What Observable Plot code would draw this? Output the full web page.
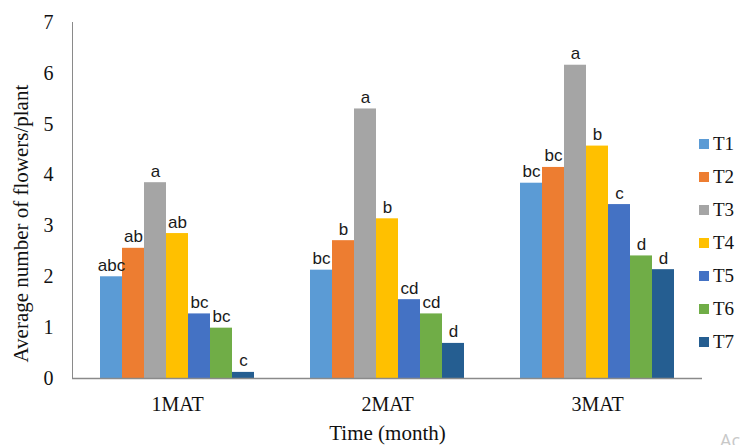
<!DOCTYPE html>
<html>
<head>
<meta charset="utf-8">
<script src="https://cdn.jsdelivr.net/npm/d3@7"></script>
<script src="https://cdn.jsdelivr.net/npm/@observablehq/plot@0.6"></script>
<style>
  html, body { margin: 0; padding: 0; background: #fff; }
  #wrap { position: relative; width: 742px; height: 445px; overflow: hidden; background: #fff; }
  #legend { position: absolute; left: 699px; top: 127px; font-family: "Liberation Serif", "Times New Roman", serif; font-size: 19px; color: #111; }
  #legend .item { display: flex; align-items: center; height: 33.1px; }
  #legend .sw { width: 10px; height: 10px; margin-right: 4px; }
  #legend .lb { font-family: "Liberation Serif", "Times New Roman", serif; }
  #wm { position: absolute; left: 720px; top: 428px; font-family: "Open Sans", "Noto Sans", sans-serif; font-size: 18px; color: #c8c8c8; }
</style>
</head>
<body>
<div id="wrap"></div>
<script>
const months = ["1MAT", "2MAT", "3MAT"];
const treatments = ["T1", "T2", "T3", "T4", "T5", "T6", "T7"];
const colors = ["#5B9BD5", "#ED7D31", "#A5A5A5", "#FFC000", "#4472C4", "#70AD47", "#255E91"];
const values1MAT = [2.00, 2.56, 3.85, 2.85, 1.27, 0.99, 0.12];
const values2MAT = [2.13, 2.71, 5.30, 3.14, 1.55, 1.27, 0.69];
const values3MAT = [3.84, 4.15, 6.16, 4.57, 3.42, 2.41, 2.14];
const letters1MAT = ["abc", "ab", "a", "ab", "bc", "bc", "c"];
const letters2MAT = ["bc", "b", "a", "b", "cd", "cd", "d"];
const letters3MAT = ["bc", "bc", "a", "b", "c", "d", "d"];
const yTicks = [0, 1, 2, 3, 4, 5, 6, 7];
const yTitle = "Average number of flowers/plant";
const xTitle = "Time (month)";

const valuesByMonth = [values1MAT, values2MAT, values3MAT];
const lettersByMonth = [letters1MAT, letters2MAT, letters3MAT];
const rows = months.flatMap((m, i) => treatments.map((t, j) => ({
  month: m, t, v: valuesByMonth[i][j], label: lettersByMonth[i][j]
})));

const serif = "'Liberation Serif', 'Times New Roman', serif";

const chart = Plot.plot({
  width: 742,
  height: 445,
  marginLeft: 97,
  marginRight: 65,
  marginTop: 22,
  marginBottom: 67,
  style: { fontFamily: serif, background: "#fff", color: "#111" },
  fx: { domain: months, paddingInner: 50 / 210, paddingOuter: 0 },
  x: { domain: treatments, padding: 0, axis: null },
  y: { domain: [0, 7], axis: null },
  color: { domain: treatments, range: colors },
  marks: [
    Plot.axisY({
      ticks: yTicks, tickFormat: d3.format("d"), tickSize: 0, tickPadding: 44, fontSize: 20,
      fontFamily: serif, label: null
    }),
    Plot.axisFx({
      anchor: "bottom", tickSize: 0, tickPadding: 18, fontSize: 20, fontFamily: serif, label: null
    }),
    Plot.barY(rows, { fx: "month", x: "t", y: "v", fill: "t" }),
    Plot.ruleY([0], { stroke: "#8a8a8a", strokeWidth: 1.6, insetLeft: -25, insetRight: -25 }),
    Plot.frame({ anchor: "left", fx: [months[0]], stroke: "#8a8a8a", insetLeft: -25 }),
    Plot.text(rows, {
      fx: "month", x: "t", y: "v", text: "label", lineAnchor: "bottom", dy: -6,
      fontSize: 17, fontFamily: "'Liberation Sans', Arial, sans-serif", fill: "#1a1a1a"
    }),
    Plot.text([yTitle], {
      fx: [months[0]], text: d => d, frameAnchor: "left", rotate: -90, lineAnchor: "bottom",
      textAnchor: "start", dx: -69.5, dy: 162, fontSize: 21, fontFamily: serif, fill: "#111",
      ariaLabel: "y-title"
    }),
    Plot.text([xTitle], {
      fx: [months[1]], text: d => d, frameAnchor: "bottom", lineAnchor: "bottom",
      dy: 61, fontSize: 21, fontFamily: serif, fill: "#111", ariaLabel: "x-title"
    })
  ]
});

d3.select(chart).select('g[aria-label="y-title"] text')
  .attr("textLength", 335).attr("lengthAdjust", "spacingAndGlyphs");

const wrap = document.getElementById("wrap");
wrap.appendChild(chart);

const legend = d3.select(wrap).append("div").attr("id", "legend");
const items = legend.selectAll("div").data(treatments).join("div").attr("class", "item");
items.append("span").attr("class", "sw").style("background", (d, i) => colors[i]);
items.append("span").attr("class", "lb").text(d => d);

d3.select(wrap).append("div").attr("id", "wm").text("Ac");
</script>
</body>
</html>
